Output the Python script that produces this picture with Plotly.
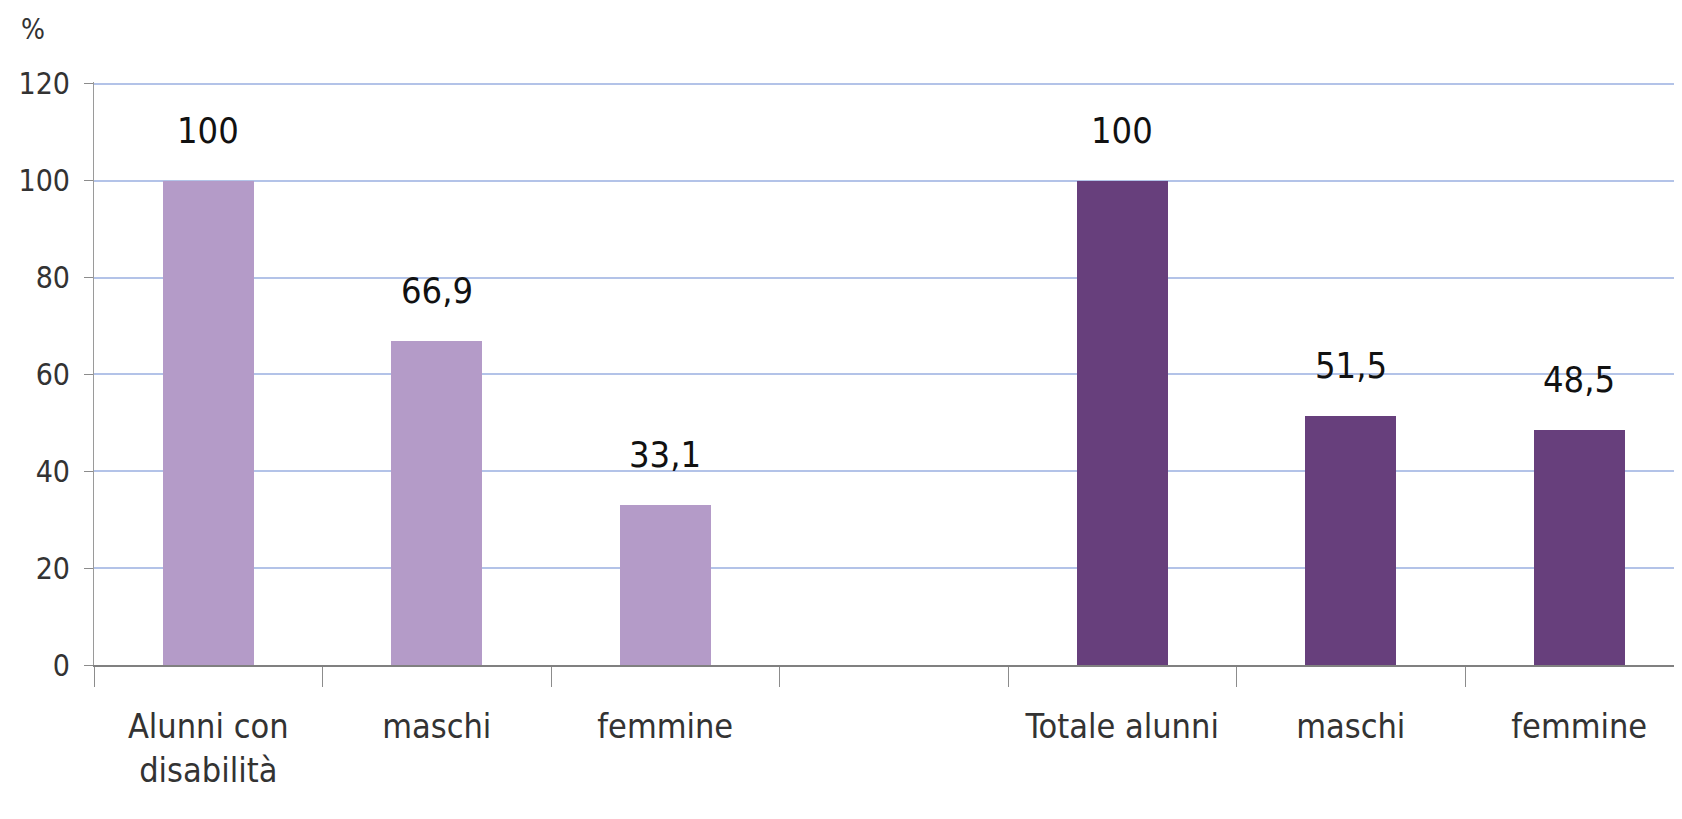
import plotly.graph_objects as go

# Data
categories = ["Alunni con<br>disabilità", "maschi", "femmine", "", "Totale alunni", "maschi", "femmine"]
cat_pos = [0, 1, 2, 3, 4, 5, 6]
disab_x = [0, 1, 2]
disab_vals = [100, 66.9, 33.1]
tot_x = [4, 5, 6]
tot_vals = [100, 51.5, 48.5]
y_ticks = [0, 20, 40, 60, 80, 100, 120]

FONT = "Liberation Sans Narrow, Arial Narrow, DejaVu Sans Condensed, sans-serif"
LIGHT = "#b49bc8"
DARK = "#673f7c"

def fmt(v):
    return ("%g" % v).replace(".", ",")

fig = go.Figure()
fig.add_trace(go.Bar(x=disab_x, y=disab_vals, width=0.4, marker=dict(color=LIGHT, line=dict(width=0)),
                     showlegend=False, hoverinfo="skip"))
fig.add_trace(go.Bar(x=tot_x, y=tot_vals, width=0.4, marker=dict(color=DARK, line=dict(width=0)),
                     showlegend=False, hoverinfo="skip"))

for xs, vs in ((disab_x, disab_vals), (tot_x, tot_vals)):
    for x, v in zip(xs, vs):
        fig.add_annotation(x=x, y=v, text=fmt(v), showarrow=False, yanchor="bottom", yshift=28,
                           font=dict(family=FONT, size=36, color="#111111"))

fig.add_annotation(xref="paper", yref="paper", x=-0.047, y=1.122, xanchor="left", yanchor="top",
                   text="%", showarrow=False, font=dict(family=FONT, size=28, color="#333333"))

boundaries = [p - 0.5 for p in cat_pos] + [cat_pos[-1] + 0.5]

L = 86
fig.update_layout(
    width=1682, height=819,
    margin=dict(l=L, r=0, t=74, b=162),
    paper_bgcolor="white", plot_bgcolor="white",
    bargap=0,
    xaxis=dict(
        range=[-0.5, -0.5 + (1682 - L) / 228.5],
        tickmode="array", tickvals=cat_pos, ticktext=categories,
        ticks="outside", ticklen=30, tickcolor="rgba(0,0,0,0)",
        tickfont=dict(family=FONT, size=34, color="#333333"),
        showgrid=False, zeroline=False,
        showline=True, linecolor="#808080", linewidth=2,
        minor=dict(tickmode="array", tickvals=boundaries, ticks="outside", ticklen=20,
                   tickcolor="#8c8c8c", tickwidth=1, showgrid=False),
    ),
    yaxis=dict(
        range=[0, 120.4], tickmode="array", tickvals=y_ticks,
        ticks="outside", ticklen=9, tickcolor="#8c8c8c",
        ticklabelstandoff=8,
        tickfont=dict(family=FONT, size=30, color="#333333"),
        showgrid=True, gridcolor="#b3c3e8", gridwidth=2,
        zeroline=False,
        showline=True, linecolor="#9a9a9a", linewidth=1,
    ),
)

fig.write_html("out.html")
